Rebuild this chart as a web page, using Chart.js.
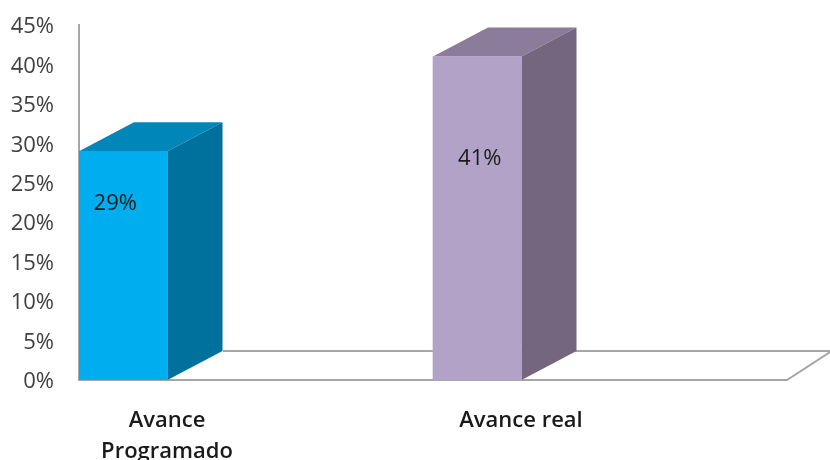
<!DOCTYPE html>
<html>
<head>
<meta charset="utf-8">
<script src="https://cdn.jsdelivr.net/npm/chart.js@4"></script>
<style>
  html, body { margin: 0; padding: 0; background: #fff; }
  #wrap { width: 830px; height: 460px; }
</style>
</head>
<body>
<div id="wrap"><canvas id="avanceChart"></canvas></div>
<script>
const categories = [['Avance', 'Programado'], 'Avance real'];
const avance = [29, 41];
const valueLabels = ['29%', '41%'];
const frontColors = ['#00aeef', '#b2a2c7'];
const topColors = ['#0086b8', '#8a7c9a'];
const sideColors = ['#00719d', '#74667e'];

const depthX = 55;
const depthY = 29;
const lineColor = '#a6a6a6';

function poly(ctx, pts, fill) {
  ctx.beginPath();
  pts.forEach((p, i) => i ? ctx.lineTo(p[0], p[1]) : ctx.moveTo(p[0], p[1]));
  ctx.closePath();
  ctx.fillStyle = fill;
  ctx.fill();
}

// 3D look: floor behind the bars, top and side faces, then the labels on the front
const box3d = {
  id: 'box3d',
  beforeDatasetsDraw(chart) {
    const { ctx, chartArea: a, scales: { y } } = chart;
    const y0 = y.getPixelForValue(0);
    ctx.save();
    ctx.strokeStyle = lineColor;
    ctx.lineWidth = 2;
    ctx.beginPath();
    ctx.moveTo(a.left, a.top - 1);
    ctx.lineTo(a.left, y0);
    ctx.lineTo(a.right, y0);
    ctx.lineTo(a.right + 43, y0 - depthY + 1);
    ctx.moveTo(a.left + depthX + 89, y0 - depthY);
    ctx.lineTo(830, y0 - depthY);
    ctx.stroke();
    chart.getDatasetMeta(0).data.forEach((bar, i) => {
      const l = bar.x - bar.width / 2;
      const r = bar.x + bar.width / 2;
      poly(ctx, [[l, bar.y], [l + depthX, bar.y - depthY], [r + depthX, bar.y - depthY], [r, bar.y]], topColors[i]);
      poly(ctx, [[r, bar.y], [r + depthX, bar.y - depthY], [r + depthX, bar.base - depthY], [r, bar.base]], sideColors[i]);
    });
    ctx.restore();
  },
  afterDatasetsDraw(chart) {
    const { ctx } = chart;
    const shiftX = [-8, 2.5];
    const dropY = [53, 102];
    ctx.save();
    ctx.font = '22px "Open Sans"';
    ctx.fillStyle = '#1a1a1a';
    ctx.textAlign = 'center';
    ctx.textBaseline = 'middle';
    chart.getDatasetMeta(0).data.forEach((bar, i) => {
      ctx.fillText(valueLabels[i], bar.x + shiftX[i], bar.y + dropY[i]);
    });
    ctx.restore();
  }
};

new Chart(document.getElementById('avanceChart'), {
  type: 'bar',
  data: {
    labels: categories,
    datasets: [
      { data: avance, backgroundColor: frontColors, categoryPercentage: 1, barPercentage: 1 },
      // empty series so the bars sit at the left of each category, as in the original
      { data: [null, null], categoryPercentage: 1, barPercentage: 1 },
      { data: [null, null], categoryPercentage: 1, barPercentage: 1 },
      { data: [null, null], categoryPercentage: 1, barPercentage: 1 }
    ]
  },
  options: {
    responsive: true,
    maintainAspectRatio: false,
    animation: false,
    layout: { padding: { top: 25, right: 43 } },
    plugins: { legend: { display: false }, tooltip: { enabled: false } },
    scales: {
      y: {
        min: 0,
        max: 45,
        afterFit(s) { s.width = 79; s.paddingTop = 0; },
        border: { display: false },
        grid: { display: false },
        ticks: {
          stepSize: 5,
          padding: 17,
          labelOffset: 2,
          color: '#404040',
          font: { family: 'Open Sans', size: 22 },
          callback: v => v + '%'
        }
      },
      x: {
        afterFit(s) { s.height = 80; },
        border: { display: false },
        grid: { display: false },
        ticks: {
          maxRotation: 0,
          autoSkip: false,
          labelOffset: -89,
          padding: 18,
          color: '#1a1a1a',
          font: { family: 'Open Sans', size: 22, weight: '600', lineHeight: 1.38 }
        }
      }
    }
  },
  plugins: [box3d]
});
</script>
</body>
</html>
